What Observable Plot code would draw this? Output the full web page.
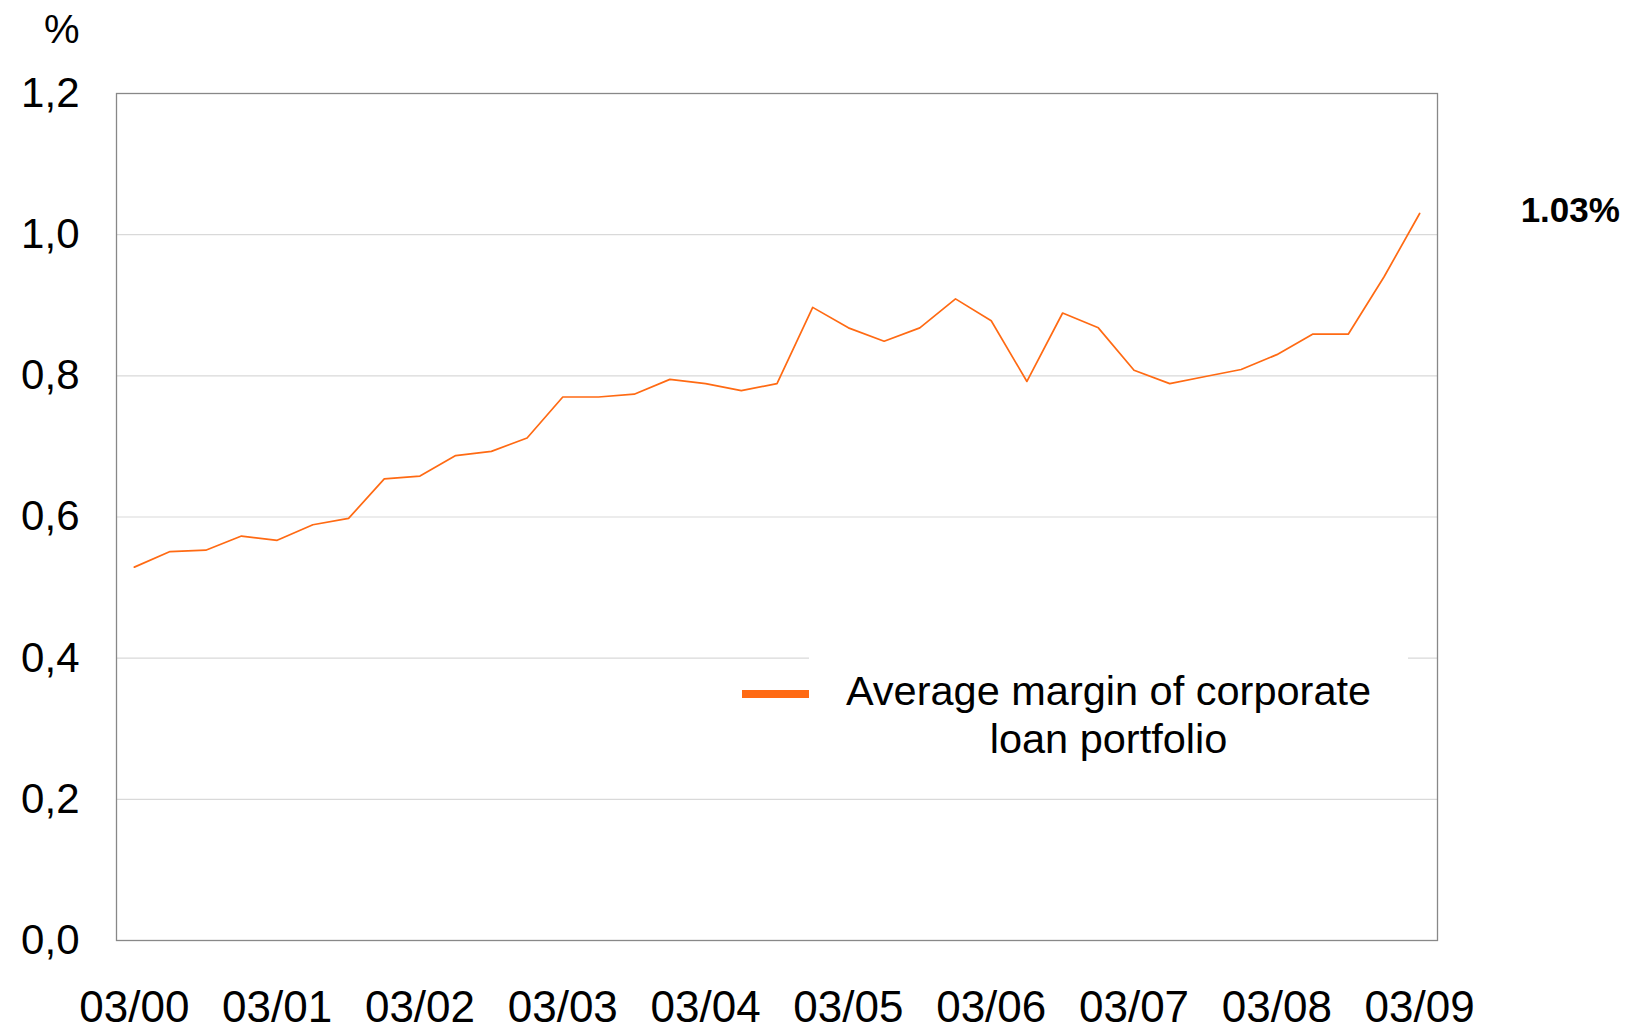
<!DOCTYPE html>
<html>
<head>
<meta charset="utf-8">
<script src="https://cdn.jsdelivr.net/npm/d3@7"></script>
<script src="https://cdn.jsdelivr.net/npm/@observablehq/plot@0.6"></script>
<style>
  html, body { margin: 0; padding: 0; background: #fff; }
  #wrap { position: relative; width: 1626px; height: 1030px; font-family: "Liberation Sans", Arial, sans-serif; color: #000; }
  #unit { position: absolute; left: 44px; top: 7px; font-size: 40px; }
  #legend { position: absolute; left: 742px; top: 652px; width: 666px; height: 112px; }
  #legend .box { position: absolute; left: 67px; top: 0; width: 599px; height: 112px; background: #fff; }
  #legend .swatch { position: absolute; left: 0; top: 38px; width: 67px; height: 8px; background: #ff6a13; }
  #legend .txt { position: absolute; left: 67px; top: 15px; width: 599px; text-align: center; font-size: 41.5px; line-height: 48px; }
</style>
</head>
<body>
<div id="wrap">
  <div id="chart"></div>
  <div id="unit">%</div>
  <div id="legend"><div class="box"></div><div class="swatch"></div><div class="txt">Average margin of corporate<br>loan portfolio</div></div>
</div>
<script>
const quarters = [
  "03/00","06/00","09/00","12/00",
  "03/01","06/01","09/01","12/01",
  "03/02","06/02","09/02","12/02",
  "03/03","06/03","09/03","12/03",
  "03/04","06/04","09/04","12/04",
  "03/05","06/05","09/05","12/05",
  "03/06","06/06","09/06","12/06",
  "03/07","06/07","09/07","12/07",
  "03/08","06/08","09/08","12/08",
  "03/09"
];
const margin = [
  0.529, 0.551, 0.553, 0.573,
  0.567, 0.589, 0.598, 0.654,
  0.658, 0.687, 0.693, 0.712,
  0.770, 0.770, 0.774, 0.795,
  0.789, 0.779, 0.789, 0.897,
  0.868, 0.849, 0.868, 0.909,
  0.878, 0.792, 0.889, 0.868,
  0.808, 0.789, 0.799, 0.809,
  0.830, 0.859, 0.859, 0.940,
  1.030
];
const xTickLabels = ["03/00","03/01","03/02","03/03","03/04","03/05","03/06","03/07","03/08","03/09"];
const yTickValues = [0, 0.2, 0.4, 0.6, 0.8, 1.0, 1.2];
const gridValues = [0.2, 0.4, 0.6, 0.8, 1.0];

const data = quarters.map((q, i) => ({q, v: margin[i]}));
const last = [data[data.length - 1]];

const chart = Plot.plot({
  width: 1626,
  height: 1030,
  marginLeft: 116,
  marginRight: 189,
  marginTop: 93,
  marginBottom: 90,
  style: { fontFamily: "'Liberation Sans', Arial, sans-serif", background: "#fff", color: "#000" },
  x: { type: "point", domain: quarters, padding: 0.5, round: false },
  y: { domain: [0, 1.2] },
  marks: [
    Plot.gridY(gridValues, { stroke: "#d9d9d9", strokeOpacity: 1, strokeWidth: 1.2 }),
    Plot.frame({ stroke: "#888888", strokeWidth: 1.3 }),
    Plot.line(data, { x: "q", y: "v", stroke: "#ff6a13", strokeWidth: 1.7 }),
    Plot.axisY(yTickValues, { tickSize: 0, tickPadding: 37, fontSize: 42, label: null,
      tickFormat: d => d.toFixed(1).replace(".", ",") }),
    Plot.axisX(xTickLabels, { tickSize: 0, tickPadding: 50, fontSize: 44, label: null }),
    Plot.text(last, { x: "q", y: "v", text: d => d.v.toFixed(2) + "%", dx: 101, dy: -3,
      textAnchor: "start", fontWeight: "bold", fontSize: 35 })
  ]
});
document.getElementById("chart").appendChild(chart);
</script>
</body>
</html>
